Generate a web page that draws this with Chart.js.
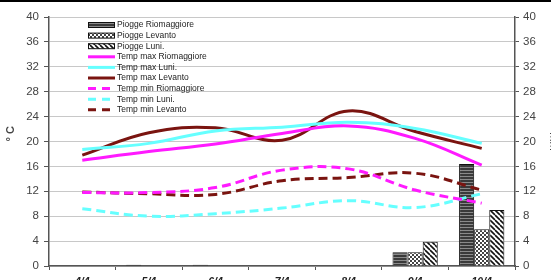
<!DOCTYPE html>
<html>
<head>
<meta charset="utf-8">
<script src="https://cdn.jsdelivr.net/npm/chart.js@4.4.1/dist/chart.umd.min.js"></script>
<style>
  html, body { margin: 0; padding: 0; background: #fff; width: 551px; height: 280px; overflow: hidden; }
  #wrap { position: relative; width: 551px; height: 280px; overflow: hidden; }
  #topline { position: absolute; left: 0; top: 0; width: 551px; height: 2px; background: #000; }
  canvas { display: block; }
</style>
</head>
<body>
<div id="wrap">
  <canvas id="chart" width="551" height="290"></canvas>
  <div id="topline"></div>
</div>
<script>
// Rain (mm) and temperatures (°C), 4/4 - 10/4
const days = ['4/4', '5/4', '6/4', '7/4', '8/4', '9/4', '10/4'];

const rainRiomaggiore = [0, 0.2, 0.2, 0, 0, 2.2, 16.4];
const rainLevanto     = [0, 0, 0, 0, 0, 2.2, 5.9];
const rainLuni        = [0, 0, 0, 0, 0, 3.9, 9.0];

const tmaxRiomaggiore = [17.0, 18.4, 19.6, 21.3, 22.5, 20.5, 16.2];
const tmaxLuni        = [18.7, 19.7, 21.7, 22.3, 23.1, 22.1, 19.7];
const tmaxLevanto     = [17.8, 21.4, 22.2, 20.2, 24.9, 21.6, 18.9];
const tminRiomaggiore = [11.8, 11.8, 12.6, 15.4, 15.6, 12.2, 10.1];
const tminLuni        = [9.2, 8.0, 8.4, 9.3, 10.5, 9.4, 11.6];
const tminLevanto     = [11.9, 11.6, 11.5, 13.7, 14.2, 14.9, 12.2];

const magenta = '#ff1aff';
const cyan = '#66ffff';
const brown = '#7a1410';

function makePattern(kind) {
  const c = document.createElement('canvas');
  const g = c.getContext('2d');
  if (kind === 'hstripes') {
    c.width = 4; c.height = 3;
    g.fillStyle = '#3a3a3a'; g.fillRect(0, 0, 4, 3);
    g.fillStyle = '#8a8a8a'; g.fillRect(0, 2, 4, 1);
  } else if (kind === 'checker') {
    c.width = 4; c.height = 4;
    g.fillStyle = '#444'; g.fillRect(0, 0, 4, 4);
    g.fillStyle = '#fff'; g.fillRect(0, 0, 2, 2); g.fillRect(2, 2, 2, 2);
  } else {
    c.width = 5; c.height = 5;
    g.fillStyle = '#fff'; g.fillRect(0, 0, 5, 5);
    g.strokeStyle = '#111'; g.lineWidth = 1.6;
    for (let k = -5; k <= 10; k += 5) {
      g.beginPath(); g.moveTo(k, 0); g.lineTo(k + 5, 5); g.stroke();
    }
  }
  return g.createPattern(c, 'repeat');
}

const patRio = makePattern('hstripes');
const patLev = makePattern('checker');
const patLuni = makePattern('diag');

function barSet(label, data, pattern) {
  return {
    type: 'bar', label: label, data: data, yAxisID: 'mm',
    backgroundColor: pattern, borderColor: '#111', borderWidth: 1,
    categoryPercentage: 0.68, barPercentage: 1.0, order: 2
  };
}

function lineSet(label, data, color, dashed) {
  return {
    type: 'line', label: label, data: data, yAxisID: 'temp',
    borderColor: color, backgroundColor: color, borderWidth: 3,
    borderDash: dashed ? [9, 5] : [], tension: 0.4,
    pointRadius: 0, fill: false, order: 1
  };
}

// Legend drawn inside the plot, top-left
const innerLegend = {
  id: 'innerLegend',
  afterDraw(chart) {
    const ctx = chart.ctx;
    const x0 = 88, x1 = 115, y0 = 25, step = 10.6;
    ctx.save();
    ctx.font = '8.5px "Liberation Sans", Arial, sans-serif';
    ctx.textBaseline = 'middle';
    chart.data.datasets.forEach((ds, i) => {
      const y = y0 + i * step;
      if (ds.type === 'bar') {
        ctx.fillStyle = ds.backgroundColor;
        ctx.fillRect(x0, y - 2.5, x1 - x0, 5);
        ctx.strokeStyle = '#111'; ctx.lineWidth = 1;
        ctx.strokeRect(x0 + 0.5, y - 2.5, x1 - x0 - 1, 5);
      } else {
        ctx.strokeStyle = ds.borderColor; ctx.lineWidth = 3;
        ctx.setLineDash(ds.borderDash.length ? [8, 6] : []);
        ctx.beginPath(); ctx.moveTo(x0, y); ctx.lineTo(x1, y); ctx.stroke();
        ctx.setLineDash([]);
      }
      ctx.fillStyle = '#222';
      ctx.fillText(ds.label, x1 + 2, y);
    });
    ctx.restore();
  }
};

const tickFont = { family: '"Liberation Sans", Arial, sans-serif', size: 11.5 };

new Chart(document.getElementById('chart').getContext('2d'), {
  data: {
    labels: days,
    datasets: [
      barSet('Piogge Riomaggiore', rainRiomaggiore, patRio),
      barSet('Piogge Levanto', rainLevanto, patLev),
      barSet('Piogge Luni.', rainLuni, patLuni),
      lineSet('Temp max Riomaggiore', tmaxRiomaggiore, magenta, false),
      lineSet('Temp max Luni.', tmaxLuni, cyan, false),
      lineSet('Temp max Levanto', tmaxLevanto, brown, false),
      lineSet('Temp min Riomaggiore', tminRiomaggiore, magenta, true),
      lineSet('Temp min Luni.', tminLuni, cyan, true),
      lineSet('Temp min Levanto', tminLevanto, brown, true)
    ]
  },
  options: {
    responsive: false,
    animation: false,
    layout: { padding: { top: 17, left: 0, right: 0, bottom: 0 } },
    plugins: { legend: { display: false }, tooltip: { enabled: false } },
    scales: {
      x: {
        offset: true,
        grid: { offset: true, drawOnChartArea: false, tickLength: 4, tickColor: '#555' },
        border: { color: '#555', width: 1.5 },
        ticks: {
          padding: 6, color: '#222',
          font: { family: '"Liberation Sans", Arial, sans-serif', size: 10.5, style: 'italic', weight: 'bold' }
        },
        afterFit: s => { s.height = 24; }
      },
      temp: {
        position: 'left', min: 0, max: 40,
        ticks: { stepSize: 4, color: '#444', font: tickFont, padding: 5 },
        grid: { color: '#c8c8c8', lineWidth: 1, tickLength: 5, tickColor: '#555' },
        border: { color: '#555', width: 1.5 },
        title: {
          display: true, text: '     ° C', color: '#444',
          font: { family: '"Liberation Sans", Arial, sans-serif', size: 11, weight: 'bold' },
          padding: { top: 4, bottom: 0 }
        },
        afterFit: s => { s.width = 49; }
      },
      mm: {
        position: 'right', min: 0, max: 40,
        ticks: { stepSize: 4, color: '#444', font: tickFont, padding: 4 },
        grid: { drawOnChartArea: false, tickLength: 4, tickColor: '#555' },
        border: { color: '#555', width: 1.5 },
        title: {
          display: true, text: 'mm', color: '#444',
          font: { family: '"Liberation Sans", Arial, sans-serif', size: 11 },
          padding: { top: -9, bottom: 0 }
        },
        afterFit: s => { s.width = 36; }
      }
    }
  },
  plugins: [innerLegend]
});
</script>
</body>
</html>
